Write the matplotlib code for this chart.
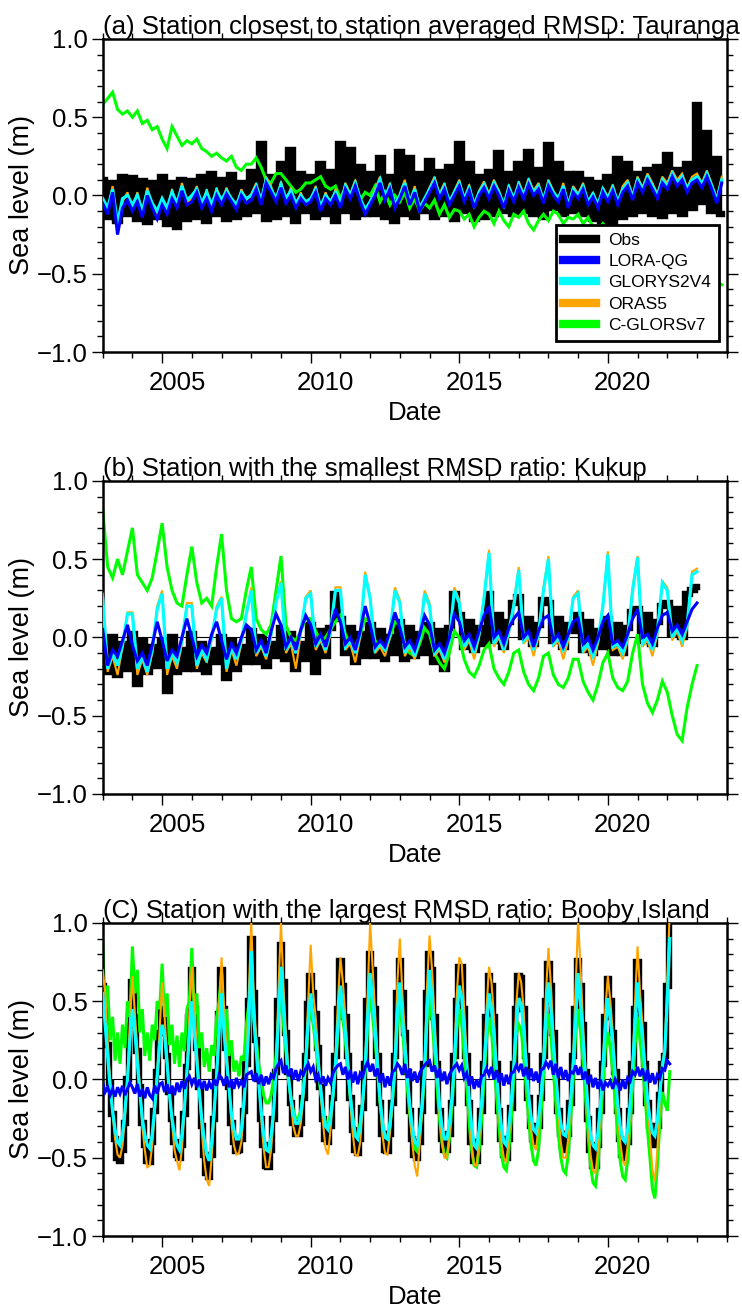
import numpy as np
import matplotlib.pyplot as plt
from matplotlib.ticker import MultipleLocator
from matplotlib.transforms import ScaledTranslation
from matplotlib.lines import Line2D

plt.rcParams['font.family'] = ['Liberation Sans', 'DejaVu Sans']

series_names = ['Obs', 'LORA-QG', 'GLORYS2V4', 'ORAS5', 'C-GLORSv7']
series_colors = ['black', '#0000ff', '#00ffff', '#ffa500', '#00ff00']

titles = ['(a) Station closest to station averaged RMSD: Tauranga',
          '(b) Station with the smallest RMSD ratio: Kukup',
          '(C) Station with the largest RMSD ratio: Booby Island']

# ---- panel (a) Tauranga, sea level in cm, 6 samples per year from 2003 ----
obs_a = [10, -14, 8, -16, 12, -12,
         11, -15, 9, -17, 8, -14,
         12, -18, 8, -20, 10, -15,
         9, -14, 12, -16, 14, -12,
         10, -15, 13, -14, 8, -12,
         15, -10, 33, -15, 12, -14,
         20, -12, 29, -16, 14, -10,
         12, -14, 20, -12, 15, -16,
         33, -10, 29, -14, 18, -12,
         14, -12, 24, -14, 12, -16,
         28, -12, 24, -14, 14, -10,
         22, -14, 15, -12, 18, -15,
         33, -10, 20, -15, 12, -14,
         15, -12, 27, -10, 14, -12,
         20, -10, 28, -12, 16, -14,
         32, -8, 20, -12, 14, -10,
         14, -12, 10, -15, 8, -16,
         12, -17, 23, -14, 20, -12,
         14, -10, 16, -12, 18, -13,
         26, -10, 16, -12, 20, -8,
         58, -4, 40, -10, 23, -12]
lora_a = [-5, -12, 2, -25, -8, -3,
          -10, -4, -14, 0, -8, -15,
          -6, -12, -2, -8, 3, -6,
          -4, 2, -8, -2, -10, 0,
          -6, 1, -4, -9, 0, -5,
          -3, 4, -6, 8, 2, -4,
          5, -5, 0, -8, -2, -6,
          -4, 2, -10, -2, -6, 0,
          -8, 4, -2, 6, -4, -12,
          -6, 0, 8, -3, 4, -8,
          -2, 6, -6, 2, -10, -4,
          2, 8, -2, 4, -6, 0,
          6, -4, 3, -8, 0, 5,
          -2, 6, 0, -8, 3, -4,
          5, -2, 7, 0, 4, -5,
          6, 0, -4, 4, -8, 2,
          -2, 4, -6, -1, -8, 2,
          -4, 3, -6, 2, 6, -3,
          8, 2, 10, 4, -2, 8,
          4, 12, 6, 10, 2, 8,
          10, 5, 12, 4, -5, 8]
glorys_a = [-2, -8, 4, -18, -2, 0,
            -6, 0, -10, 3, -5, -10,
            -2, -8, 2, -5, 6, -3,
            0, 4, -5, 2, -6, 3,
            -3, 3, -2, -6, 2, -2,
            0, 6, -3, 10, 4, -2,
            7, -2, 3, -5, 0, -4,
            -2, 4, -7, 0, -4, 2,
            -5, 6, 0, 8, -2, -9,
            -4, 2, 10, -1, 6, -6,
            0, 8, -4, 4, -8, -2,
            4, 10, 0, 6, -4, 2,
            8, -2, 5, -6, 2, 7,
            0, 8, 2, -6, 5, -2,
            7, 0, 9, 2, 6, -3,
            8, 2, -2, 6, -6, 4,
            0, 6, -4, 1, -6, 4,
            -2, 5, -4, 4, 8, -1,
            10, 4, 12, 6, 0, 10,
            6, 14, 8, 12, 4, 10,
            12, 7, 14, 6, -3, 10]
oras_a = [-3, -10, 6, -20, -4, 2,
          -8, 2, -12, 5, -6, -12,
          -4, -10, 4, -7, 8, -5,
          -2, 6, -7, 4, -8, 5,
          -5, 5, -3, -8, 4, -3,
          1, 8, -5, 12, 6, -4,
          9, -4, 5, -7, 2, -6,
          -3, 6, -9, 2, -6, 4,
          -7, 8, 1, 10, -3, -11,
          -5, 4, 12, -2, 8, -8,
          1, 10, -6, 6, -10, -3,
          5, 12, 1, 8, -6, 3,
          10, -3, 7, -8, 3, 9,
          1, 10, 3, -8, 7, -3,
          9, 1, 11, 3, 8, -4,
          10, 3, -3, 8, -7, 6,
          1, 8, -5, 2, -7, 5,
          -1, 7, -5, 6, 10, 0,
          12, 5, 14, 8, 1, 12,
          8, 16, 10, 14, 5, 12,
          14, 8, 16, 7, -2, 12]
cglors_a = [58, 62, 66, 55, 52, 54,
            50, 54, 46, 48, 42, 44,
            36, 30, 44, 38, 32, 35,
            33, 36, 30, 28, 25, 27,
            24, 22, 25, 18, 16, 20,
            20, 24, 18, 10, 8, 14,
            14, 10, 6, 2, 4, 8,
            8, 10, 12, 6, 4, 6,
            -2, 5, 0, 6, -3, 2,
            0, 6, -4, 2, -6, 0,
            -4, 2, -8, -2, -10, -5,
            -8, -3, -12, -6, -14, -9,
            -10, -15, -12, -20, -14, -10,
            -12, -18, -10, -16, -20, -12,
            -14, -10, -18, -22, -16, -12,
            -16, -10, -12, -18, -14, -15,
            -12, -18, -14, -20, -22, -18,
            -22, -20, -26, -24, -28, -25,
            -28, -30, -27, -33, -31, -35,
            -34, -38, -36, -42, -40, -44,
            -46, -50, -48, -53, -55, -57]

# ---- panel (b) Kukup, sea level in cm, 6 samples per year from 2003 ----
obs_b = [-5, -22, 0, -24, -4, -20,
         2, -30, -2, -22, -6, -18,
         -2, -34, 0, -22, -8, -20,
         2, -20, -4, -22, -8, -16,
         0, -26, -2, -20, -6, -16,
         4, -16, 0, -18, -4, -12,
         6, -14, 2, -20, -4, -14,
         8, -22, 4, -12, 6, 28,
         12, -10, 6, -16, 2, -12,
         8, -12, 4, -14, 0, -10,
         10, -14, 6, -12, 2, -10,
         8, -16, 4, -20, 6, 28,
         14, -6, 10, -8, 6, -4,
         28, -2, 14, -6, 10, 22,
         26, 0, 12, -4, 8, 24,
         22, -2, 12, -6, 8, 4,
         14, -8, 10, -10, 4, -6,
         12, -10, 8, -10, 6, 16,
         18, -2, 14, -4, 10, 20,
         22, 2, 18, 0, 28, 30,
         32]
lora_b = [5, -18, -8, -12, -2, 8,
          -5, -15, -10, -18, -5, 10,
          -2, -15, -8, -12, 0, 12,
          0, -12, -5, -10, 2, 10,
          -2, -14, -4, -10, 0, 8,
          5, -8, -2, -10, 4, 15,
          8, -6, 0, -8, 5, 14,
          8, -4, 2, -6, 6, 18,
          10, -4, 0, -8, 4, 20,
          8, -6, -2, -6, 4, 16,
          6, -6, -2, -8, 2, 14,
          8, -8, -4, -10, 0, 15,
          10, -2, 2, -6, 4, 14,
          20, 0, 4, -4, 6, 12,
          16, 0, 4, -6, 4, 12,
          14, -2, 2, -6, 2, 10,
          12, -4, 0, -8, 0, 10,
          14, -4, -2, -6, 2, 12,
          18, 0, 2, -4, 6, 14,
          16, 4, 8, 2, 10, 18,
          22]
glorys_b = [25, -20, -10, -18, -5, 15,
            15, -20, -12, -22, -8, 18,
            28, -20, -10, -16, -2, 20,
            20, -18, -8, -14, 0, 18,
            25, -20, -6, -14, -2, 15,
            30, -10, -4, -12, 2, 22,
            35, -8, -2, -10, 4, 25,
            28, -6, 0, -8, 4, 30,
            30, -6, -2, -10, 2, 40,
            25, -8, -4, -8, 2, 30,
            22, -10, -4, -12, 0, 28,
            20, -10, -6, -14, -2, 30,
            22, -6, 0, -10, 2, 25,
            54, -4, 2, -8, 4, 20,
            43, -2, 2, -8, 2, 30,
            50, -4, 0, -8, 0, 25,
            28, -8, -4, -12, -2, 20,
            53, -6, -4, -10, 0, 30,
            51, -4, 0, -8, 4, 35,
            30, 0, 6, -2, 8, 40,
            42]
oras_b = [28, -22, -12, -24, -6, 16,
          16, -24, -14, -24, -10, 20,
          30, -24, -12, -20, -4, 22,
          22, -20, -10, -16, -2, 20,
          26, -22, -8, -18, -4, 16,
          32, -12, -6, -14, 0, 24,
          36, -10, -4, -20, 2, 26,
          30, -8, -2, -10, 2, 32,
          32, -8, -4, -16, 0, 42,
          26, -10, -6, -12, 0, 32,
          24, -12, -6, -14, -2, 30,
          22, -12, -8, -16, -4, 32,
          24, -8, -2, -14, 0, 26,
          56, -6, 0, -10, 2, 22,
          45, -4, 0, -12, 0, 32,
          52, -6, -2, -14, -2, 26,
          30, -10, -6, -18, -4, 22,
          55, -8, -6, -14, -2, 32,
          52, -6, -2, -12, 2, 36,
          32, -2, 4, -6, 6, 42,
          44]
cglors_b = [82, 45, 38, 50, 40, 55,
            70, 40, 35, 30, 38, 55,
            73, 45, 30, 22, 20, 40,
            58, 35, 22, 25, 20, 45,
            66, 30, 12, 10, 12, 30,
            45, 12, 5, 2, 8, 30,
            52, 8, 0, -2, 4, 12,
            12, 4, -2, 0, 5, 10,
            14, 2, -4, -6, 2, 12,
            10, -2, -6, -8, 0, 10,
            8, -4, -10, -12, -4, 6,
            2, -10, -16, -20, -10, 4,
            0, -14, -22, -25, -18, -8,
            -4, -20, -26, -30, -22, -10,
            -8, -22, -30, -34, -26, -12,
            -10, -24, -30, -32, -26, -14,
            -14, -28, -35, -40, -30, -16,
            -10, -26, -32, -34, -28, -10,
            2, -30, -42, -48, -40, -28,
            -35, -50, -62, -66, -45, -30,
            -18]

# ---- panel (c) Booby Island, sea level in cm, monthly from Jan 2003 ----
obs_c = [60, 48, 22, -2, -22, -38, -50, -52, -45, -28, 0, 35,
         62, 40, 18, -5, -28, -42, -52, -53, -40, -20, 5, 30,
         45, 38, 15, -8, -25, -40, -48, -50, -42, -22, 8, 40,
         70, 45, 20, -5, -30, -48, -60, -62, -48, -25, 5, 42,
         70, 45, 20, -5, -28, -40, -46, -45, -38, -20, 10, 50,
         90, 55, 25, 0, -25, -42, -55, -56, -45, -25, 5, 50,
         86, 62, 30, 5, -15, -28, -35, -35, -28, -12, 15, 48,
         66, 55, 42, 20, -5, -25, -38, -40, -30, -12, 15, 45,
         76, 60, 40, 15, -12, -32, -45, -47, -38, -18, 10, 50,
         80, 70, 45, 15, -15, -35, -45, -46, -35, -15, 15, 55,
         76, 55, 30, 5, -20, -38, -48, -50, -40, -20, 10, 55,
         80, 70, 40, 10, -20, -38, -45, -45, -35, -15, 15, 50,
         72, 72, 45, 15, -15, -40, -52, -52, -40, -20, 10, 40,
         66, 60, 40, 10, -20, -38, -48, -50, -38, -18, 10, 45,
         66, 65, 45, 15, -12, -30, -38, -40, -30, -12, 15, 50,
         74, 60, 30, 5, -20, -35, -43, -45, -35, -15, 15, 45,
         76, 60, 35, 5, -25, -45, -55, -55, -42, -20, 10, 40,
         64, 50, 30, 5, -20, -38, -48, -50, -40, -20, 10, 45,
         75, 55, 35, 10, -15, -30, -40, -42, -30, -10, 10, 15,
         60, 105]
lora_c = [-2, -8, -5, -10, -6, -11, -5, -9, -4, -10, -6, -2,
          -5, -9, -3, -11, -6, -12, -5, -10, -12, -4, -9, -3,
          -2, -8, -3, -9, -4, -10, -2, -8, -1, -6, 0, 2,
          -3, 1, -5, 0, -6, -1, -7, -2, -6, 0, -4, 3,
          1, -4, 2, -5, 0, -6, 1, -4, -1, -5, 3, 4,
          5, -1, 4, -3, 3, -4, 2, -3, 3, 1, 7, 10,
          12, 4, 9, 2, 7, 0, 6, -1, 5, 3, 7, 10,
          5, 8, 0, 3, -3, 2, -4, 1, -2, 4, 7, 9,
          10, 3, 8, 0, 6, -2, 5, -3, 4, 2, 8, 11,
          5, 10, 2, 7, -2, 4, -5, 2, -4, 5, 6, 10,
          8, 3, 10, 1, 7, -1, 5, -2, 4, 7, 9, 11,
          12, 5, 9, 1, 7, -1, 5, -3, 3, 6, 8, 10,
          6, 9, 1, 4, -4, 2, -6, 0, -5, 2, 3, 7,
          3, 8, 0, 6, -2, 4, -4, 3, -3, 4, 5, 9,
          6, 10, 2, 8, 0, 7, -1, 5, -2, 6, 7, 11,
          8, 12, 3, 10, 1, 8, 0, 6, -1, 5, 4, 9,
          3, 8, 0, 5, -3, 3, -5, 1, -6, 0, -7, -2,
          -4, -1, -6, 0, -3, -7, 0, -6, 1, -1, 5, 3,
          8, 2, 7, -1, 6, -2, 4, -3, 3, 1, 7, 6,
          12, 10]
glorys_c = [55, 35, 15, -5, -20, -32, -40, -42, -35, -20, 0, 25,
            45, 30, 10, -8, -25, -35, -42, -44, -35, -18, 2, 22,
            35, 28, 10, -10, -25, -35, -42, -45, -35, -18, 5, 28,
            50, 30, 12, -8, -25, -38, -48, -52, -40, -20, 2, 30,
            55, 30, 12, -5, -22, -32, -38, -38, -32, -15, 5, 35,
            82, 40, 18, -2, -20, -35, -45, -46, -36, -20, 5, 40,
            72, 45, 22, 2, -12, -22, -28, -28, -22, -8, 12, 38,
            55, 40, 28, 12, -5, -20, -30, -32, -25, -10, 10, 35,
            60, 45, 30, 10, -10, -25, -36, -38, -30, -14, 8, 40,
            68, 50, 32, 10, -12, -28, -37, -38, -28, -12, 10, 42,
            62, 40, 22, 2, -16, -30, -40, -42, -32, -15, 8, 45,
            70, 50, 28, 6, -16, -30, -38, -38, -28, -12, 10, 40,
            60, 52, 30, 10, -12, -30, -42, -44, -32, -15, 8, 32,
            55, 45, 28, 6, -15, -30, -40, -42, -30, -14, 8, 35,
            52, 48, 32, 10, -10, -24, -32, -34, -25, -10, 10, 40,
            62, 45, 22, 2, -16, -28, -35, -36, -28, -12, 10, 38,
            68, 48, 25, 2, -18, -35, -42, -44, -34, -16, 8, 32,
            52, 38, 22, 2, -16, -30, -38, -40, -32, -15, 8, 36,
            62, 42, 25, 6, -12, -25, -34, -36, -26, -8, 8, 18,
            50, 90]
oras_c = [70, 55, 25, 0, -22, -38, -48, -50, -42, -25, 2, 38,
          66, 42, 20, -5, -30, -45, -56, -55, -42, -22, 5, 32,
          62, 40, 15, -10, -28, -45, -52, -58, -44, -22, 5, 42,
          72, 48, 20, -5, -32, -52, -64, -68, -50, -25, 5, 45,
          78, 46, 20, -5, -28, -42, -48, -47, -40, -20, 10, 55,
          100, 55, 25, 0, -25, -44, -56, -56, -45, -25, 5, 58,
          100, 60, 30, 5, -15, -30, -36, -36, -28, -12, 15, 50,
          86, 55, 40, 18, -8, -28, -44, -48, -32, -12, 15, 50,
          78, 62, 40, 15, -15, -35, -48, -49, -40, -18, 10, 56,
          100, 72, 45, 15, -15, -36, -47, -48, -35, -15, 15, 62,
          90, 55, 30, 5, -22, -40, -55, -62, -42, -20, 10, 60,
          92, 70, 40, 10, -22, -40, -50, -50, -37, -15, 15, 55,
          78, 74, 45, 15, -15, -42, -55, -55, -40, -20, 10, 45,
          72, 62, 40, 10, -20, -40, -50, -53, -38, -18, 10, 48,
          68, 62, 45, 15, -12, -32, -42, -45, -30, -12, 15, 55,
          84, 60, 30, 5, -22, -40, -50, -50, -38, -15, 15, 60,
          102, 70, 35, 5, -25, -48, -58, -60, -45, -22, 10, 45,
          66, 50, 30, 5, -22, -40, -52, -55, -42, -20, 10, 50,
          85, 55, 35, 10, -18, -35, -58, -65, -45, -15, 10, 20,
          65, 108]
cglors_c = [88, 45, 60, 25, 40, 12, 30, 10, 35, 20, 50, 40,
            85, 55, 70, 30, 45, 15, 30, 12, 35, 25, 50, 45,
            74, 40, 55, 22, 35, 10, 28, 8, 30, 18, 45, 50,
            84, 40, 55, 20, 30, 8, 20, 5, 22, 15, 40, 50,
            68, 35, 45, 15, 25, 5, 12, 2, 15, 12, 35, 48,
            60, 40, 25, 10, 0, -10, -15, -15, -10, 0, 15, 40,
            55, 35, 18, 0, -12, -20, -25, -25, -20, -8, 10, 35,
            45, 35, 22, 8, -8, -20, -28, -30, -22, -10, 8, 30,
            50, 38, 25, 5, -12, -25, -35, -36, -28, -14, 5, 35,
            55, 40, 25, 5, -15, -28, -36, -38, -30, -14, 5, 35,
            50, 32, 15, -5, -22, -35, -44, -46, -36, -18, 2, 38,
            55, 38, 18, -5, -25, -40, -48, -50, -38, -18, 5, 32,
            45, 35, 15, -5, -28, -45, -55, -56, -45, -25, 0, 25,
            40, 30, 12, -10, -30, -48, -56, -58, -45, -25, 0, 28,
            35, 32, 15, -5, -25, -42, -52, -55, -45, -22, 2, 30,
            42, 28, 5, -15, -35, -50, -58, -60, -48, -25, 0, 30,
            45, 30, 10, -12, -35, -55, -66, -68, -55, -30, -5, 20,
            30, 20, 5, -15, -35, -52, -62, -64, -52, -30, -5, 22,
            40, 25, 10, -10, -32, -50, -70, -76, -55, -28, -8, -15,
            -20, 5]

panels = [
    (6, [obs_a, lora_a, glorys_a, oras_a, cglors_a]),
    (6, [obs_b, lora_b, glorys_b, oras_b, cglors_b]),
    (12, [obs_c, lora_c, glorys_c, oras_c, cglors_c]),
]

start_year = 2003
x_min, x_max = 2003, 2024
year_ticks = [2005, 2010, 2015, 2020]

# draw order: Obs, C-GLORSv7, ORAS5, GLORYS2V4, LORA-QG
draw_order = [0, 4, 3, 2, 1]
widths = [4.6, 2.2, 2.3, 1.5, 2.2]

fig = plt.figure(figsize=(7.42, 13.11), dpi=100)
bottoms = [0.7315, 0.3944, 0.0572]
ax_w, ax_h = 0.841, 0.2388

for k, (per_year, series) in enumerate(panels):
    ax = fig.add_axes([0.1384, bottoms[k], ax_w, ax_h])
    ax.axhline(0, color='black', lw=0.8, zorder=0.5)
    for z, idx in enumerate(draw_order):
        vals = np.array(series[idx]) / 100.0
        t = start_year + np.arange(len(vals)) / per_year
        style = 'steps-mid' if idx == 0 else 'default'
        ax.plot(t, vals, color=series_colors[idx], lw=widths[idx],
                drawstyle=style, solid_joinstyle='miter', zorder=1 + z)

    ax.set_xlim(x_min, x_max)
    ax.set_ylim(-1.0, 1.0)
    ax.xaxis.set_major_locator(MultipleLocator(5))
    ax.xaxis.set_minor_locator(MultipleLocator(1))
    ax.set_xticks(year_ticks)
    ax.set_xticklabels([str(y) for y in year_ticks])
    ax.yaxis.set_major_locator(MultipleLocator(0.5))
    ax.yaxis.set_minor_locator(MultipleLocator(0.1))
    ax.yaxis.set_major_formatter(plt.FuncFormatter(
        lambda v, p: f'{v:.1f}'.replace('-', '\u2212')))
    ax.tick_params(which='both', direction='out', top=True, right=True,
                   labelsize=18.5, width=1.0)
    ax.tick_params(which='major', length=8, pad=3)
    ax.tick_params(axis='x', which='major', pad=6)
    ax.tick_params(which='minor', length=4)
    for sp in ax.spines.values():
        sp.set_linewidth(1.8)

    # year labels sit in the middle of the year interval
    half_year = 0.5 / (x_max - x_min) * ax_w * 7.42
    shift = ScaledTranslation(half_year, 0, fig.dpi_scale_trans)
    for lab in ax.get_xticklabels():
        lab.set_transform(lab.get_transform() + shift)

    ax.set_xlabel('Date', fontsize=18.5, labelpad=4)
    ax.set_ylabel('Sea level (m)', fontsize=19.5, labelpad=1)
    ax.set_title(titles[k], loc='left', fontsize=18.5, pad=3)

    if k == 0:
        handles = [Line2D([], [], color=c, lw=6) for c in series_colors]
        leg = ax.legend(handles, series_names, loc='lower right',
                        bbox_to_anchor=(0.988, 0.035), borderaxespad=0,
                        fontsize=12.5, handlelength=1.9, labelspacing=0.36,
                        handletextpad=0.7, borderpad=0.45, fancybox=False,
                        framealpha=1, edgecolor='black')
        leg.get_frame().set_linewidth(2.0)
        leg.set_zorder(20)

fig.savefig('out.png', dpi=100)
